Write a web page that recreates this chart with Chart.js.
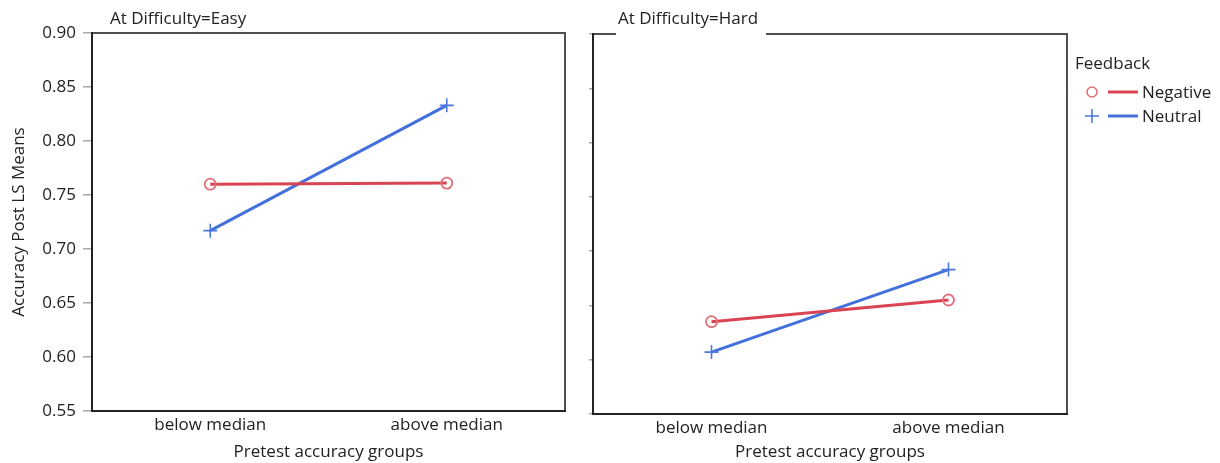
<!DOCTYPE html>
<html>
<head>
<meta charset="utf-8">
<script src="https://cdn.jsdelivr.net/npm/chart.js@4/dist/chart.umd.min.js"></script>
<style>
  html, body { margin: 0; padding: 0; background: #fff; }
  #wrap { position: relative; width: 1220px; height: 463px; overflow: hidden; font-family: "Open Sans", sans-serif; }
  #wrap canvas { position: absolute; left: 0; top: 0; }
  .lg-text { position: absolute; font-size: 17px; line-height: 24px; color: #222; white-space: nowrap; }
  .lg-mark { position: absolute; }
</style>
</head>
<body>
<div id="wrap">
  <canvas id="easyChart" width="1220" height="463"></canvas>
  <canvas id="hardChart" width="1220" height="463"></canvas>
</div>
<script>
// Pretest accuracy groups (x categories)
const groups = ['below median', 'above median'];
// Panel headings
const panelTitles = ['At Difficulty=Easy', 'At Difficulty=Hard'];
// Feedback conditions
const seriesNames = ['Negative', 'Neutral'];
const legendTitle = 'Feedback';
// Accuracy post LS means per panel
const negativeEasy = [0.760, 0.761];
const neutralEasy  = [0.717, 0.833];
const negativeHard = [0.635, 0.655];
const neutralHard  = [0.607, 0.683];
// Y axis ticks
const yTicks = [0.55, 0.60, 0.65, 0.70, 0.75, 0.80, 0.85, 0.90];
const yTitle = 'Accuracy Post LS Means';
const xTitle = 'Pretest accuracy groups';

const FONT = '"Open Sans", sans-serif';
const TEXT = '#222';
const RED = '#d94452', RED_MARK = '#e0707a';
const BLUE = '#4470dc', BLUE_MARK = '#4a78e0';

function makeDatasets(neg, neu) {
  return [
    { label: seriesNames[0], data: neg, borderColor: RED, borderWidth: 3,
      pointStyle: 'circle', pointRadius: 5.5, pointBorderWidth: 1.8,
      pointBorderColor: RED_MARK, pointBackgroundColor: 'rgba(0,0,0,0)' },
    { label: seriesNames[1], data: neu, borderColor: BLUE, borderWidth: 3,
      pointStyle: 'cross', pointRadius: 7, pointBorderWidth: 1.6,
      pointBorderColor: BLUE_MARK, pointBackgroundColor: BLUE_MARK }
  ];
}

// Frame around the plot area plus the panel heading
const panelDecor = {
  id: 'panelDecor',
  beforeDatasetsDraw(chart, args, opts) {
    const { ctx, chartArea: a } = chart;
    ctx.save();
    ctx.lineWidth = 2;
    ctx.strokeStyle = '#505050';
    ctx.beginPath();
    ctx.moveTo(a.left, a.top); ctx.lineTo(a.right, a.top); ctx.lineTo(a.right, a.bottom);
    ctx.stroke();
    ctx.strokeStyle = '#222';
    ctx.beginPath();
    ctx.moveTo(a.left, a.top - 1); ctx.lineTo(a.left, a.bottom); ctx.lineTo(a.right + 1, a.bottom);
    ctx.stroke();
    ctx.restore();
  },
  afterDraw(chart, args, opts) {
    const { ctx, chartArea: a } = chart;
    ctx.save();
    ctx.font = '17px ' + FONT;
    const x0 = a.left + opts.offset;
    const w = ctx.measureText(opts.text).width;
    if (opts.mask) {
      ctx.fillStyle = '#fff';
      ctx.fillRect(x0 - 2, 4, w + 10, a.top - 2);
    }
    ctx.fillStyle = TEXT;
    ctx.textBaseline = 'alphabetic';
    ctx.fillText(opts.text, x0, 24);
    ctx.restore();
  }
};

function makeChart(id, neg, neu, cfg) {
  return new Chart(document.getElementById(id), {
    type: 'line',
    data: { labels: groups, datasets: makeDatasets(neg, neu) },
    plugins: [panelDecor],
    options: {
      responsive: false,
      animation: false,
      devicePixelRatio: 1,
      layout: { padding: cfg.padding },
      plugins: {
        legend: { display: false },
        tooltip: { enabled: false },
        panelDecor: { text: cfg.title, offset: cfg.titleOffset, mask: cfg.mask }
      },
      scales: {
        x: {
          type: 'category',
          offset: true,
          grid: { display: false, drawTicks: false, tickLength: 0 },
          border: { display: false },
          ticks: { color: TEXT, font: { family: FONT, size: 17 }, padding: 4, maxRotation: 0 },
          title: { display: true, text: xTitle, color: TEXT, font: { family: FONT, size: 17 },
                   padding: { top: 0, bottom: 1 } },
          afterFit(s) { s.height = cfg.xHeight; }
        },
        y: {
          min: 0.55, max: 0.90,
          afterBuildTicks(s) { s.ticks = yTicks.map(v => ({ value: v })); },
          grid: { drawOnChartArea: false, drawTicks: true, tickLength: cfg.tickLen, color: '#a8a8a8', lineWidth: 1.5 },
          border: { display: false },
          ticks: { display: cfg.showY, color: TEXT, font: { family: FONT, size: 17 }, padding: 7,
                   callback: v => Number(v).toFixed(2) },
          title: { display: cfg.showY, text: yTitle, color: TEXT, font: { family: FONT, size: 17 },
                   padding: { top: 9, bottom: 0 } },
          afterFit(s) { s.width = cfg.yWidth; }
        }
      }
    }
  });
}

makeChart('easyChart', negativeEasy, neutralEasy, {
  padding: { left: 0, top: 33, right: 1220 - 565, bottom: 0 },
  yWidth: 92, xHeight: 52, tickLen: 9, showY: true,
  title: panelTitles[0], titleOffset: 18, mask: false
});
makeChart('hardChart', negativeHard, neutralHard, {
  padding: { left: 583, top: 34, right: 1220 - 1067, bottom: 0 },
  yWidth: 10, xHeight: 49, tickLen: 4, showY: false,
  title: panelTitles[1], titleOffset: 25, mask: true
});

// Legend for the feedback conditions
(function buildLegend() {
  const wrap = document.getElementById('wrap');
  const head = document.createElement('div');
  head.className = 'lg-text';
  head.style.left = '1075px'; head.style.top = '51px';
  head.textContent = legendTitle;
  wrap.appendChild(head);
  const NS = 'http://www.w3.org/2000/svg';
  const rows = [
    { name: seriesNames[0], line: RED, mark: RED_MARK, kind: 'circle', top: 80 },
    { name: seriesNames[1], line: BLUE, mark: BLUE_MARK, kind: 'cross', top: 104 }
  ];
  rows.forEach(r => {
    const svg = document.createElementNS(NS, 'svg');
    svg.setAttribute('class', 'lg-mark');
    svg.setAttribute('width', '58'); svg.setAttribute('height', '24');
    svg.style.left = '1084px'; svg.style.top = r.top + 'px';
    if (r.kind === 'circle') {
      const c = document.createElementNS(NS, 'circle');
      c.setAttribute('cx', '8'); c.setAttribute('cy', '12'); c.setAttribute('r', '5');
      c.setAttribute('fill', 'none'); c.setAttribute('stroke', r.mark); c.setAttribute('stroke-width', '1.6');
      svg.appendChild(c);
    } else {
      const p = document.createElementNS(NS, 'path');
      p.setAttribute('d', 'M1 12 H15 M8 5 V19');
      p.setAttribute('stroke', r.mark); p.setAttribute('stroke-width', '1.6');
      svg.appendChild(p);
    }
    const l = document.createElementNS(NS, 'line');
    l.setAttribute('x1', '24'); l.setAttribute('x2', '54');
    l.setAttribute('y1', '12'); l.setAttribute('y2', '12');
    l.setAttribute('stroke', r.line); l.setAttribute('stroke-width', '3');
    svg.appendChild(l);
    wrap.appendChild(svg);
    const t = document.createElement('div');
    t.className = 'lg-text';
    t.style.left = '1142px'; t.style.top = r.top + 'px';
    t.textContent = r.name;
    wrap.appendChild(t);
  });
})();
</script>
</body>
</html>
